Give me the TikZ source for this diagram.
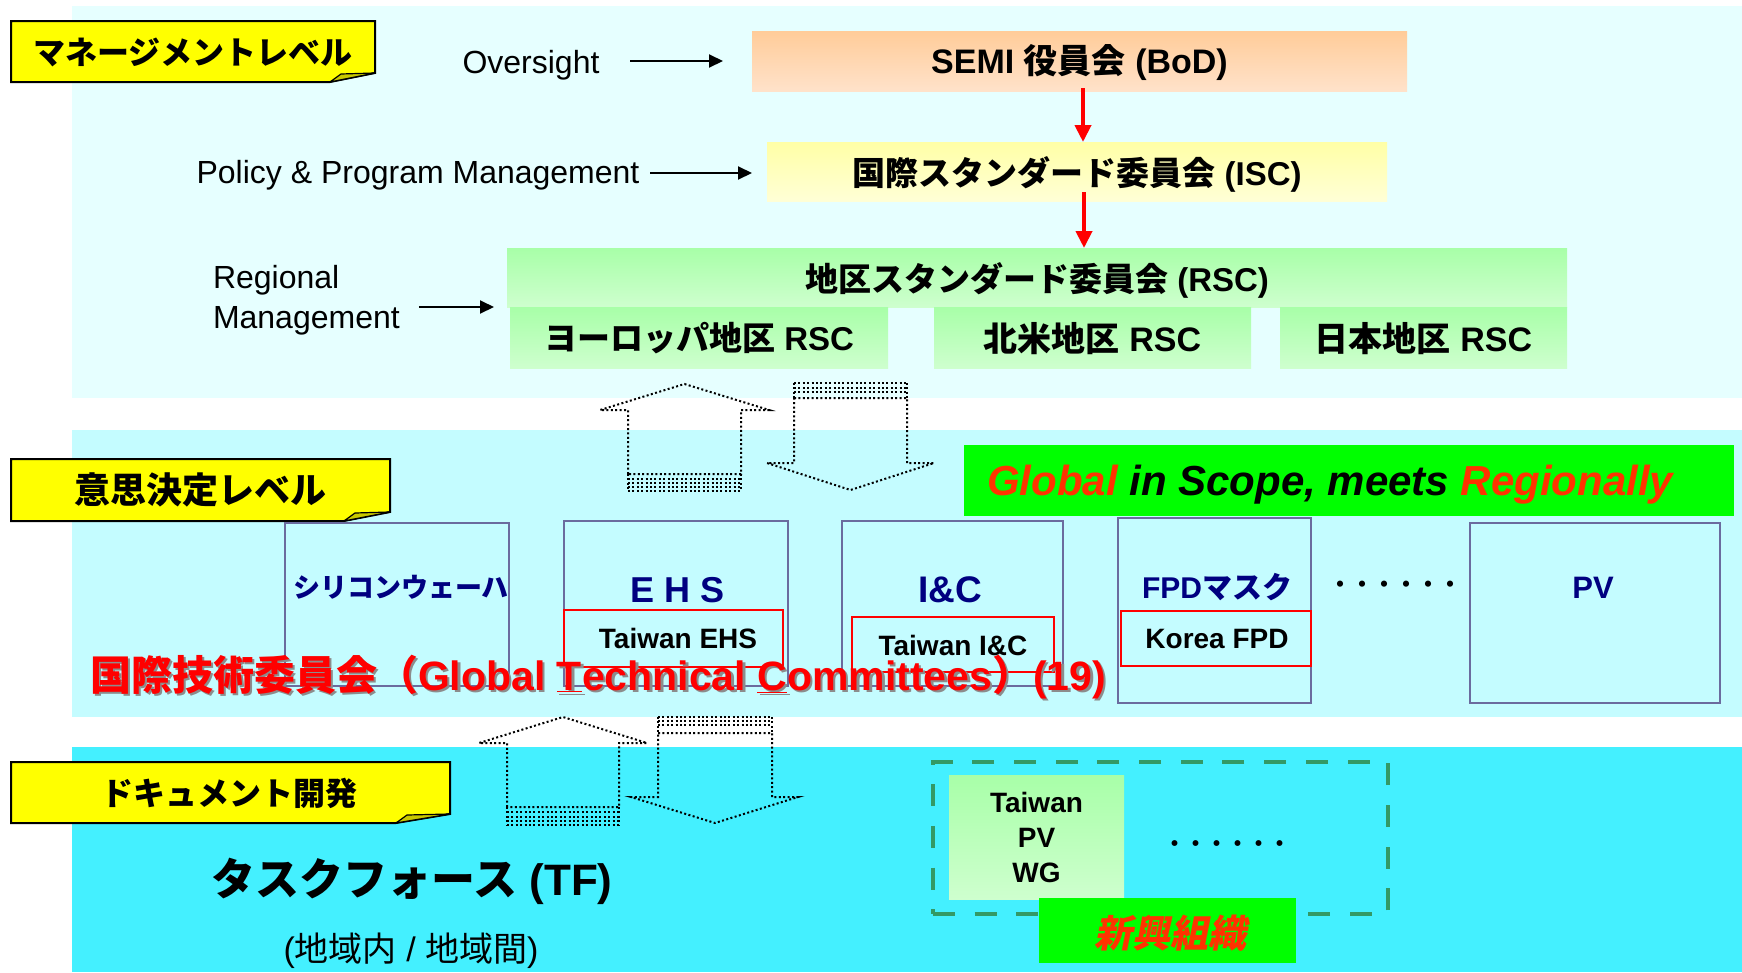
\documentclass[tikz,border=0pt]{standalone}
\usepackage{fontspec}
\setmainfont{Liberation Sans}
\newfontfamily\jp{Noto Sans CJK JP}
\newfontfamily\jpsl[FakeSlant=0.2]{Noto Sans CJK JP}
\usetikzlibrary{arrows.meta}
\definecolor{bandA}{HTML}{E6FFFF}
\definecolor{bandB}{HTML}{C4FCFF}
\definecolor{bandC}{HTML}{44F0FF}
\definecolor{lblY}{HTML}{FFFF00}
\definecolor{foldY}{HTML}{C8C800}
\definecolor{commB}{HTML}{6B6B9E}
\definecolor{navyT}{HTML}{000080}
\definecolor{ored}{HTML}{FF3300}
\definecolor{grn}{HTML}{00FF00}
\definecolor{sea}{HTML}{339966}
\definecolor{peachT}{HTML}{FFCC99}
\definecolor{peachB}{HTML}{FFE2CA}
\definecolor{yelT}{HTML}{FFFFA6}
\definecolor{yelB}{HTML}{FFFFD6}
\definecolor{grT}{HTML}{A8FFA8}
\definecolor{grB}{HTML}{CEFFCE}
\newcommand{\fsz}[2]{\fontsize{#1}{#2}\selectfont}
\begin{document}
\begin{tikzpicture}[x=1pt,y=-1pt,
  every node/.style={inner sep=0pt,outer sep=0pt},
  lbl/.style={draw=black,line width=2pt,fill=lblY,line join=miter},
  fold/.style={draw=black,line width=1.2pt,fill=foldY,line join=round},
  lbltxt/.style={font={\jp\bfseries\fsz{#1}{#1}}},
  plain/.style={font={\fsz{32}{40}},align=left},
  blk/.style={-{Triangle[length=14pt,width=13pt]},line width=2pt},
  redarr/.style={-{Triangle[length=17pt,width=16pt]},line width=4pt,draw=red,color=red},
  bodbox/.style={top color=peachT,bottom color=peachB},
  iscbox/.style={top color=yelT,bottom color=yelB},
  grbox/.style={top color=grT,bottom color=grB},
  comm/.style={draw=commB,line width=2.5pt},
  redbox/.style={draw=red,line width=2pt},
  ctitle/.style={text=navyT,font={\bfseries\fsz{#1}{#1}}},
  btxt/.style={font={\bfseries\fsz{#1}{#1}}},
  blkout/.style={draw=black,line width=2pt,dash pattern=on 2pt off 2.4pt},
  dotsty/.style={font={\jp\bfseries\fsz{#1}{#1}}}
]
\useasboundingbox (0,0) rectangle (1742,972);
\fill[white] (0,0) rectangle (1742,972);
% bands
\fill[bandA] (72,6) rectangle (1742,398);
\fill[bandB] (72,430) rectangle (1742,717);
\fill[bandC] (72,747) rectangle (1742,972);

% level labels
\path[lbl] (11,21) -- (375,21) -- (375,73) -- (330,82) -- (11,82) -- cycle;
\path[fold] (330,82) -- (341,74) -- (375,73) -- cycle;
\node[lbltxt=32] (l1) at (193,52) {マネージメントレベル};

\path[lbl] (11,459) -- (390,459) -- (390,512) -- (344,521) -- (11,521) -- cycle;
\path[fold] (344,521) -- (355,513) -- (390,512) -- cycle;
\node[lbltxt=36] (l2) at (200,490) {意思決定レベル};

\path[lbl] (11,762) -- (450,762) -- (450,814) -- (396,823) -- (11,823) -- cycle;
\path[fold] (396,823) -- (407,815) -- (450,814) -- cycle;
\node[lbltxt=32] (l3) at (229,793) {ドキュメント開発};

% management level
\node[font={\fsz{32}{40}},anchor=base] (ov) at (531,73) {Oversight};
\node[font={\fsz{32}{40}},anchor=base] (pol) at (418,183) {Policy \& Program Management};
\node[plain,anchor=west] (reg) at (213,300) {Regional\\Management};

\node[bodbox,minimum width=655pt,minimum height=60pt,text height=25pt,text depth=0pt] (bod) at (1079.5,61)
  {\bfseries\fsz{34}{34}SEMI {\jp 役員会} (BoD)};
\node[iscbox,minimum width=620pt,minimum height=59pt,text height=27.8pt,text depth=0pt] (isc) at (1077,171.5)
  {\bfseries\fsz{33}{33}{\jp 国際スタンダード委員会} (ISC)};
\node[grbox,minimum width=1060pt,minimum height=59pt,text height=27.8pt,text depth=0pt] (rsc) at (1037,277.5)
  {\bfseries\fsz{33}{33}{\jp 地区スタンダード委員会} (RSC)};
\node[grbox,minimum width=378pt,minimum height=61pt,text height=26.6pt,text depth=0pt] (eur) at (699,337.5)
  {\bfseries\fsz{33}{33}{\jp ヨーロッパ地区} RSC};
\node[grbox,minimum width=317pt,minimum height=61pt,text height=27.4pt,text depth=0pt] (na) at (1092.5,337.5)
  {\bfseries\fsz{34}{34}{\jp 北米地区} RSC};
\node[grbox,minimum width=287pt,minimum height=61pt,text height=27.4pt,text depth=0pt] (jpn) at (1423.5,337.5)
  {\bfseries\fsz{34}{34}{\jp 日本地区} RSC};

\draw[blk] ([xshift=31pt]ov.east |- bod.west) -- ([xshift=-29pt]bod.west);
\draw[blk] ([xshift=11pt,yshift=10pt]pol.base east) -- ([xshift=-15pt,yshift=10pt]pol.base east -| isc.west);
\draw[blk] ([xshift=19pt]reg.east |- eur.north) -- ([xshift=-16pt]eur.north west);

\draw[redarr] ([xshift=3.5pt,yshift=3pt]bod.south) -- ([xshift=6pt]isc.north);
\draw[redarr] ([xshift=7pt,yshift=9pt]isc.south) -- ([xshift=47pt]rsc.north);

% block arrows between management and decision levels
\draw[blkout] (628,474) -- (628,410) -- (600,410) -- (684.5,384) -- (769,410) -- (741,410) -- (741,474) -- cycle;
\foreach \yy in {479,483,487,491} \draw[blkout] (628,\yy) -- (741,\yy);
\draw[blkout] (628,474) -- (628,491) (741,474) -- (741,491);

\draw[blkout] (794,398) -- (907,398) -- (907,463) -- (934,463) -- (850.5,490) -- (767,463) -- (794,463) -- cycle;
\foreach \yy in {383,387.5,392} \draw[blkout] (794,\yy) -- (907,\yy);
\draw[blkout] (794,383) -- (794,398) (907,383) -- (907,398);

% block arrows between decision level and document development
\draw[blkout] (507,807) -- (507,743) -- (479,743) -- (563,717) -- (647,743) -- (619,743) -- (619,807) -- cycle;
\foreach \yy in {812,816.5,821,825} \draw[blkout] (507,\yy) -- (619,\yy);
\draw[blkout] (507,807) -- (507,825) (619,807) -- (619,825);

\draw[blkout] (658,733) -- (772,733) -- (772,797) -- (798,797) -- (715,823) -- (631,797) -- (658,797) -- cycle;
\foreach \yy in {717,721,725} \draw[blkout] (658,\yy) -- (772,\yy);
\draw[blkout] (658,717) -- (658,733) (772,717) -- (772,733);

% decision level
\node[fill=grn,minimum width=770pt,minimum height=71pt] (glb) at (1349,480.5) {};
\node[anchor=base west,font={\bfseries\itshape\fsz{42}{42}}] (glbt) at (987,495)
  {\textcolor{ored}{Global} in Scope, meets \textcolor{ored}{Regionally}};

\node[comm,minimum width=224pt,minimum height=163pt] (sil) at (397,604.5) {};
\node[ctitle=27] (silt) at (401,587) {\jp\bfseries シリコンウェーハ};

\node[comm,minimum width=224pt,minimum height=165pt] (ehs) at (676,603.5) {};
\node[ctitle=36,anchor=base] (ehst) at (678,602) {E H S};
\node[redbox,minimum width=219pt,minimum height=57pt] (ehsr) at (673.5,638.5) {};
\node[btxt=28,anchor=base] (ehsrt) at (678,648) {Taiwan EHS};

\node[comm,minimum width=221pt,minimum height=165pt] (ic) at (952.5,603.5) {};
\node[ctitle=37,anchor=base] (ict) at (950,602) {I\&C};
\node[redbox,minimum width=202pt,minimum height=55pt] (icr) at (953,644.5) {};
\node[btxt=28,anchor=base] (icrt) at (953,655) {Taiwan I\&C};

\node[comm,minimum width=193pt,minimum height=185pt] (fpd) at (1214.5,610.5) {};
\node[ctitle=30,anchor=base] (fpdt) at (1217,598) {FPD{\jp マスク}};
\node[redbox,minimum width=190pt,minimum height=55pt] (fpdr) at (1216,638.5) {};
\node[btxt=28,anchor=base] (fpdrt) at (1217,648) {Korea FPD};

\node[dotsty=22] (dots1) at (1395,587) {・・・・・・};

\node[comm,minimum width=250pt,minimum height=180pt] (pv) at (1595,613) {};
\node[ctitle=31,anchor=base] (pvt) at (1593,598) {PV};

% global technical committees title (with shadow)
\node[anchor=base west,text=black!45,font={\bfseries\fsz{41}{41}}] (gtcs) at (92.5,692.5)
  {{\jp 国際技術委員会（}Global \underline{T}echnical \underline{C}ommittees{\jp ）}(19)};
\node[anchor=base west,text=red,font={\bfseries\fsz{41}{41}}] (gtc) at (90,690)
  {{\jp 国際技術委員会（}Global \underline{T}echnical \underline{C}ommittees{\jp ）}(19)};

% document development
\node[btxt=44,anchor=base] (tf) at (412,895) {{\jp タスクフォース} (TF)};
\node[font={\fsz{34}{34}},anchor=base] (tfsub) at (411,961) {({\jp 地域内} / {\jp 地域間})};

\node[draw=sea,line width=4.5pt,dash pattern=on 22pt off 19.7pt,minimum width=455pt,minimum height=152pt] (dash) at (1160.5,838) {};
\node[grbox,minimum width=175pt,minimum height=124pt,align=center,font={\bfseries\fsz{28}{35}}] (tpv) at (1036.5,837) {Taiwan\\PV\\WG};
\node[dotsty=21] (dots2) at (1227.5,846) {・・・・・・};
\node[fill=grn,minimum width=257pt,minimum height=65pt] (newb) at (1167.5,930.5) {};
\node[text=ored,font={\jpsl\bfseries\fsz{38}{38}}] (newt) at (1170,933) {新興組織};
\end{tikzpicture}
\end{document}
